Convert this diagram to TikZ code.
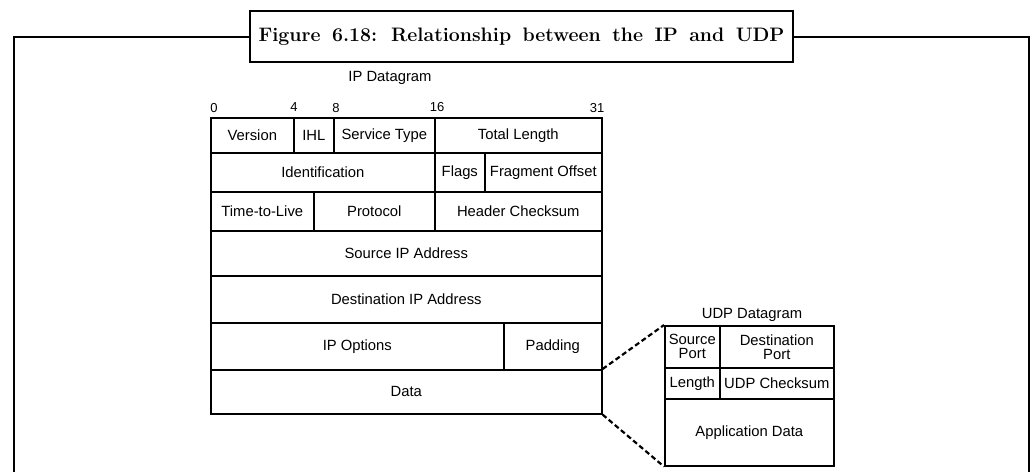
\documentclass[tikz,border=0pt]{standalone}
\usepackage{fontspec}
\newfontfamily\diagfont{Liberation Sans}
\begin{document}
\begin{tikzpicture}[x=1pt,y=-1pt,
  cell/.style={draw, line width=1.6pt, inner sep=0pt, anchor=north west, align=center,
    font=\diagfont\fontsize{14.8}{16}\selectfont},
  lbl/.style={inner sep=0pt, font=\diagfont\fontsize{14.8}{16}\selectfont},
  bit/.style={inner sep=0pt, font=\diagfont\fontsize{13}{14}\selectfont},
  frame/.style={line width=2pt},
  dashline/.style={line width=2.2pt, dash pattern=on 5pt off 3pt}]
\useasboundingbox (0,0) rectangle (1032,472);
\fill[white] (0,0) rectangle (1032,472);
% title and frame
\node[draw, line width=2pt, minimum width=543pt, minimum height=51pt, inner sep=0pt,
  font=\bfseries\fontsize{19.5}{21}\selectfont] (title) at (521.5,36.5)
  {\spaceskip=11.5pt plus 1pt Figure 6.18: Relationship between the IP and UDP};
\coordinate (fbl) at (14,472);
\coordinate (fbr) at (1029,472);
\draw[frame] (title.west) -| (fbl);
\draw[frame] (title.east) -| (fbr);
% IP datagram
\node[lbl] (iplabel) at (390,78) {IP Datagram};
\node[bit] (b0) at (214,108) {0};
\node[bit] (b4) at (294,107) {4};
\node[bit] (b8) at (336,108) {8};
\node[bit] (b16) at (437,107) {16};
\node[bit] (b31) at (597,108) {31};
% row 1
\node[cell, minimum width=83pt, minimum height=35pt] (version) at (210,117) {Version};
\node[cell, minimum width=40pt, minimum height=35pt] (ihl) at (293,117) {IHL};
\node[cell, minimum width=101pt, minimum height=35pt] (stype) at (333,117) {Service Type};
\node[cell, minimum width=167pt, minimum height=35pt] (tlen) at (434,117) {Total Length};
% row 2
\node[cell, minimum width=224pt, minimum height=39pt] (ident) at (210,152) {Identification};
\node[cell, minimum width=50pt, minimum height=39pt] (flags) at (434,152) {Flags};
\node[cell, minimum width=117pt, minimum height=39pt] (frag) at (484,152) {Fragment Offset};
% row 3
\node[cell, minimum width=103pt, minimum height=39pt] (ttl) at (210,191) {Time-to-Live};
\node[cell, minimum width=121pt, minimum height=39pt] (proto) at (313,191) {Protocol};
\node[cell, minimum width=167pt, minimum height=39pt] (hcs) at (434,191) {Header Checksum};
% rows 4-7
\node[cell, minimum width=391pt, minimum height=45pt] (src) at (210,230) {Source IP Address};
\node[cell, minimum width=391pt, minimum height=47pt] (dst) at (210,275) {Destination IP Address};
\node[cell, minimum width=293pt, minimum height=47pt] (opts) at (210,322) {IP Options};
\node[cell, minimum width=98pt, minimum height=47pt] (pad) at (503,322) {Padding};
\node[cell, minimum width=391pt, minimum height=44pt] (data) at (210,369) {Data};
% UDP datagram
\node[lbl] (udplabel) at (752,315) {UDP Datagram};
\node[cell, minimum width=55pt, minimum height=42pt] (sport) at (664,325) {Source\\[-2pt]Port};
\node[cell, minimum width=114pt, minimum height=42pt] (dport) at (719,325) {Destination\\[-2pt]Port};
\node[cell, minimum width=55pt, minimum height=31pt] (len) at (664,367) {Length};
\node[cell, minimum width=114pt, minimum height=31pt] (ucs) at (719,367) {UDP Checksum};
\node[cell, minimum width=169pt, minimum height=67pt] (app) at (664,398) {Application Data};
% connectors
\draw[dashline] (data.north east) -- (sport.north west);
\draw[dashline] (data.south east) -- (app.south west);
\end{tikzpicture}
\end{document}
